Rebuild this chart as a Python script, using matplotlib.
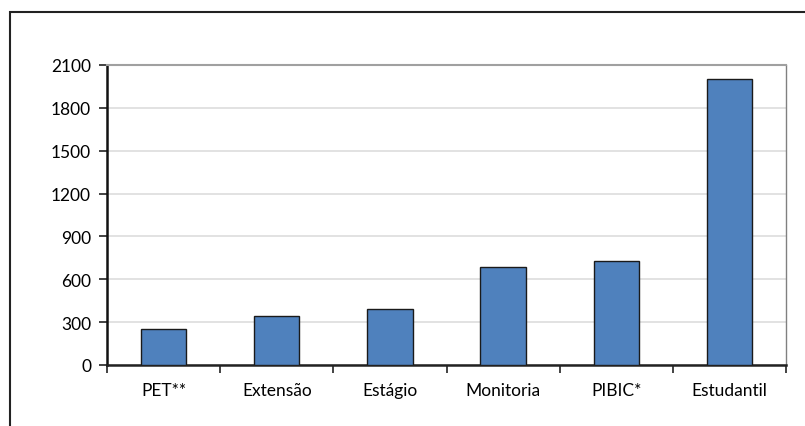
import matplotlib.pyplot as plt
from matplotlib.patches import Rectangle

# --------------------------------------------------------------
# Data
# --------------------------------------------------------------

categories = ["PET**", "Extensão", "Estágio", "Monitoria", "PIBIC*", "Estudantil"]
values = [250, 345, 390, 685, 725, 2000]
y_ticks = [0, 300, 600, 900, 1200, 1500, 1800, 2100]

# --------------------------------------------------------------
# Plot
# --------------------------------------------------------------

plt.rcParams['font.family'] = ['Lato', 'DejaVu Sans']

fig = plt.figure(figsize=(8.05, 4.27), dpi=100)
ax = fig.add_axes([107 / 805, 1 - 366 / 427, (786 - 107) / 805, 300 / 427])

x = range(len(categories))
ax.bar(x, values, width=0.4, color="#4F81BD", edgecolor="#1a1a1a", linewidth=1.0, zorder=3)

ax.set_xlim(-0.5, len(categories) - 0.5)
ax.set_ylim(0, 2100)
ax.set_yticks(y_ticks)
ax.set_yticklabels([str(t) for t in y_ticks], fontsize=12.5)
ax.yaxis.grid(True, color="#dddddd", linewidth=1.2, zorder=0)

ax.set_xticks([i - 0.5 for i in range(len(categories) + 1)])
ax.set_xticklabels([])
ax.set_xticks(list(x), minor=True)
ax.set_xticklabels(categories, minor=True, fontsize=12.5)
ax.tick_params(axis="x", which="major", length=6, width=1.2, color="#222222", direction="out")
ax.tick_params(axis="x", which="minor", length=0, pad=12)
ax.tick_params(axis="y", length=6, width=1.2, color="#222222", pad=5.5)

ax.spines["left"].set_linewidth(1.8)
ax.spines["left"].set_color("#111111")
ax.spines["bottom"].set_linewidth(1.8)
ax.spines["bottom"].set_color("#222222")
ax.spines["top"].set_color("#a0a0a0")
ax.spines["top"].set_linewidth(1.5)
ax.spines["right"].set_color("#808080")
ax.spines["right"].set_linewidth(1.0)

# outer frame of the chart area
fig.patches.append(Rectangle((10 / 805, -0.1), 1.2, 1.1 - 12.6 / 427, transform=fig.transFigure,
                             fill=False, edgecolor="#222222", linewidth=1.5))

plt.savefig("out.png", dpi=100)
